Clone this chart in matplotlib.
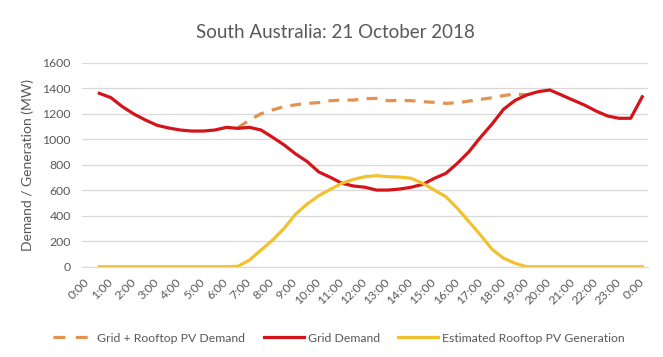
import numpy as np
import matplotlib
matplotlib.use("Agg")
import matplotlib.pyplot as plt

plt.rcParams['font.family'] = ['Lato', 'DejaVu Sans']

# Half-hourly intervals 0:30 .. 24:00 (hours)
hours = [h / 2 for h in range(1, 49)]
tick_hours = list(range(0, 25))
tick_labels = [f"{h % 24}:00" for h in tick_hours]

grid_demand = [1360, 1326, 1255, 1197, 1150, 1109, 1088, 1072, 1064, 1064,
               1072, 1093, 1085, 1093, 1072, 1015, 955, 884, 824, 743,
               701, 654, 633, 623, 601, 601, 609, 623, 646, 693,
               732, 811, 902, 1015, 1119, 1235, 1305, 1347, 1373, 1386,
               1347, 1307, 1268, 1221, 1182, 1164, 1164, 1333]

pv_generation = [0, 0, 0, 0, 0, 0, 0, 0, 0, 0,
                 0, 0, 3, 52, 131, 209, 301, 413, 492, 557,
                 607, 654, 685, 706, 714, 706, 703, 693, 654, 601,
                 549, 458, 353, 249, 136, 66, 27, 0, 0, 0,
                 0, 0, 0, 0, 0, 0, 0, 0]

nan = np.nan
grid_plus_pv = [nan, nan, nan, nan, nan, nan, nan, nan, nan, nan,
                nan, nan, 1090, 1150, 1200, 1230, 1255, 1270, 1281, 1287,
                1302, 1307, 1307, 1318, 1320, 1302, 1304, 1302, 1294, 1289,
                1281, 1286, 1299, 1313, 1325, 1342, 1355, 1347, nan, nan,
                nan, nan, nan, nan, nan, nan, nan, nan]

c_orange = '#E3924F'
c_red = '#D3141A'
c_yellow = '#F2C22E'
c_text = '#595959'
c_grid = '#D9D9D9'

fig = plt.figure(figsize=(6.63, 3.57), dpi=100)
ax = fig.add_axes([82 / 663, 1 - 266.7 / 357, (648 - 82) / 663, (266.7 - 62.7) / 357])

l1, = ax.plot(hours, grid_plus_pv, color=c_orange, lw=2.3, dashes=(3.4, 2.6),
              dash_capstyle='butt', label='Grid + Rooftop PV Demand')
l2, = ax.plot(hours, grid_demand, color=c_red, lw=2.3, label='Grid Demand',
              solid_joinstyle='round')
l3, = ax.plot(hours, pv_generation, color=c_yellow, lw=2.3,
              label='Estimated Rooftop PV Generation', solid_joinstyle='round')

ax.set_xlim(-0.25, 24.25)
ax.set_ylim(0, 1600)
ax.set_yticks(range(0, 1601, 200))
ax.set_xticks(tick_hours)
ax.set_xticklabels(tick_labels, rotation=45, ha='right', va='center',
                   rotation_mode='anchor')
ax.tick_params(axis='x', length=0, pad=10, labelsize=8.8, labelcolor=c_text)
ax.tick_params(axis='y', length=0, pad=8, labelsize=8.8, labelcolor=c_text)
ax.grid(axis='y', color=c_grid, lw=0.9)
ax.set_axisbelow(True)
for s in ['top', 'right', 'left']:
    ax.spines[s].set_visible(False)
ax.spines['bottom'].set_color(c_grid)
ax.spines['bottom'].set_linewidth(0.9)

ax.set_ylabel('Demand / Generation (MW)', color=c_text, fontsize=10, labelpad=6)
fig.text(335 / 663, 1 - 32 / 357, 'South Australia: 21 October 2018',
         ha='center', va='center', fontsize=13.5, color=c_text)

leg = fig.legend(handles=[l1, l2, l3], loc='center',
                 bbox_to_anchor=(339 / 663, 1 - 338 / 357), ncol=3,
                 frameon=False, fontsize=8.8, handlelength=3.3,
                 handletextpad=0.3, columnspacing=1.5)
for t in leg.get_texts():
    t.set_color(c_text)
leg.legend_handles[0].set_dashes((3.7, 3.3))

fig.savefig('out.png', dpi=100)
